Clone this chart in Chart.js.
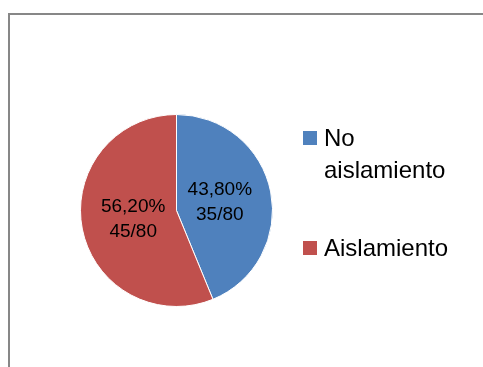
<!DOCTYPE html>
<html>
<head>
<meta charset="utf-8">
<script src="https://cdn.jsdelivr.net/npm/chart.js@4.4.1/dist/chart.umd.min.js"></script>
<style>
  html, body { margin: 0; padding: 0; background: #fff; overflow: hidden; }
  #wrap { position: relative; width: 483px; height: 367px; }
  #frame {
    position: absolute; left: 8px; top: 13px; width: 520px; height: 420px;
    border: 2px solid #878787; box-sizing: border-box;
  }
  #chart { position: absolute; left: 0; top: 0; }
</style>
</head>
<body>
<div id="wrap">
  <div id="frame"></div>
  <canvas id="chart" width="483" height="367"></canvas>
</div>
<script>
// Aislamiento vs no aislamiento
const categories = ['No aislamiento', 'Aislamiento'];
const percentages = [43.8, 56.2];
const counts = ['35/80', '45/80'];
const sliceColors = ['#4F81BD', '#C0504D'];

const FONT = '"Liberation Sans", Arial, sans-serif';

// Percentage + count label inside each slice
const sliceLabels = {
  id: 'sliceLabels',
  afterDatasetsDraw(chart) {
    const { ctx } = chart;
    const meta = chart.getDatasetMeta(0);
    ctx.save();
    ctx.font = '19px ' + FONT;
    ctx.fillStyle = '#000';
    ctx.textAlign = 'center';
    ctx.textBaseline = 'middle';
    meta.data.forEach((arc, i) => {
      const { x, y, startAngle, endAngle, outerRadius } =
        arc.getProps(['x', 'y', 'startAngle', 'endAngle', 'outerRadius'], true);
      const mid = (startAngle + endAngle) / 2;
      const r = outerRadius * 0.46;
      const cx = x + Math.cos(mid) * r;
      const cy = y + Math.sin(mid) * r;
      const pct = percentages[i].toFixed(2).replace('.', ',') + '%';
      ctx.fillText(pct, cx, cy - 12.5);
      ctx.fillText(counts[i], cx, cy + 12.5);
    });
    ctx.restore();
  }
};

// Legend on the right, with wrapped labels
const sideLegend = {
  id: 'sideLegend',
  afterDraw(chart) {
    const { ctx } = chart;
    const labels = chart.data.labels;
    const colors = chart.data.datasets[0].backgroundColor;
    const boxX = 303, textX = 324, box = 14;
    const lineH = 32, itemGap = 46, maxW = 135;
    let baseline = 146;
    ctx.save();
    ctx.font = '24px ' + FONT;
    ctx.textBaseline = 'alphabetic';
    labels.forEach((label, i) => {
      // simple word wrap
      const lines = [];
      let cur = '';
      label.split(' ').forEach(w => {
        const test = cur ? cur + ' ' + w : w;
        if (cur && ctx.measureText(test).width > maxW) {
          lines.push(cur);
          cur = w;
        } else {
          cur = test;
        }
      });
      lines.push(cur);

      ctx.fillStyle = colors[i];
      ctx.fillRect(boxX, baseline - 15, box, box);
      ctx.fillStyle = '#000';
      lines.forEach((ln, j) => ctx.fillText(ln, textX, baseline + j * lineH));
      baseline += lines.length * lineH + itemGap;
    });
    ctx.restore();
  }
};

new Chart(document.getElementById('chart'), {
  type: 'pie',
  data: {
    labels: categories,
    datasets: [{
      data: percentages,
      backgroundColor: sliceColors,
      borderColor: '#ffffff',
      borderWidth: 1
    }]
  },
  options: {
    responsive: false,
    animation: false,
    devicePixelRatio: 1,
    layout: {
      padding: { left: 80, right: 210, top: 114, bottom: 60 }
    },
    plugins: {
      legend: { display: false },
      tooltip: { enabled: false }
    }
  },
  plugins: [sliceLabels, sideLegend]
});
</script>
</body>
</html>
